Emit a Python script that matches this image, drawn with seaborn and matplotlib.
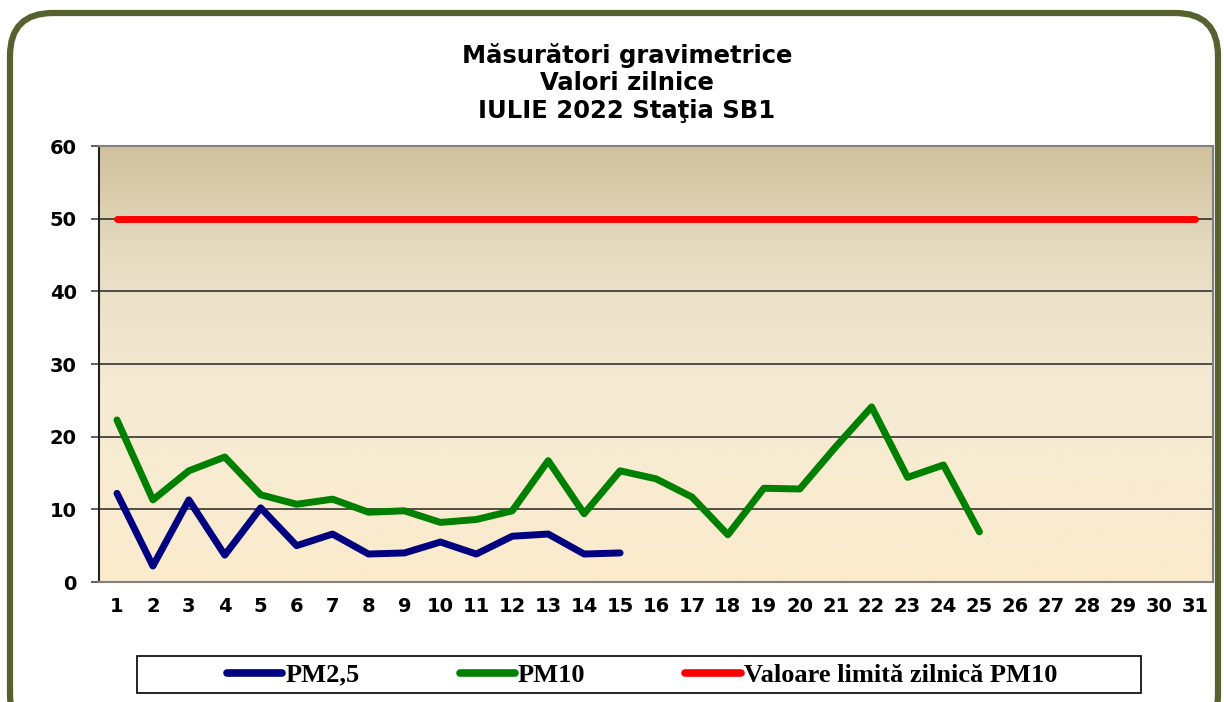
import numpy as np
import pandas as pd
import matplotlib
matplotlib.use("Agg")
import matplotlib.pyplot as plt
import seaborn as sns
from matplotlib.patches import FancyBboxPatch, Rectangle
from matplotlib.colors import LinearSegmentedColormap
from matplotlib.lines import Line2D

days = list(range(1, 32))
day_labels = [str(d) for d in days]
pm25 = [12.2, 2.2, 11.3, 3.7, 10.2, 5.0, 6.6, 3.85, 4.0, 5.5, 3.85, 6.3, 6.6, 3.85, 4.0]
pm10 = [22.3, 11.3, 15.3, 17.2, 12.0, 10.7, 11.4, 9.6, 9.8, 8.2, 8.6, 9.8, 16.7, 9.4, 15.3,
        14.2, 11.7, 6.5, 12.9, 12.8, 18.6, 24.1, 14.4, 16.1, 6.9]
limit = [50] * 31
series_names = ["PM2,5", "PM10", "Valoare limită zilnică PM10"]
series_colors = ["#000080", "#008000", "#FF0000"]
title_lines = ["Măsurători gravimetrice", "Valori zilnice", "IULIE 2022 Staţia SB1"]
yticks = [0, 10, 20, 30, 40, 50, 60]

sns.set_style("white")
plt.rcParams['font.family'] = ['DejaVu Sans']
plt.rcParams['text.color'] = 'black'
plt.rcParams['xtick.color'] = 'black'
plt.rcParams['ytick.color'] = 'black'

fig = plt.figure(figsize=(12.24, 7.02), dpi=100)
fig.patch.set_facecolor("white")

# rounded outer border
border = FancyBboxPatch((10 / 1224, -0.05), (1208 / 1224), 1.05 - 13 / 702,
                        boxstyle="round,pad=0,rounding_size=0.035",
                        transform=fig.transFigure, facecolor="none",
                        edgecolor="#556230", linewidth=4.5, mutation_aspect=1224 / 702)
fig.patches.append(border)

ax = fig.add_axes([99 / 1224, 1 - 582 / 702, (1213 - 99) / 1224, (582 - 146) / 702])

# gradient background
cmap = LinearSegmentedColormap.from_list("bg", [(0, "#FBEBCD"), (0.45, "#F5EBD4"),
                                                (0.75, "#E6DCC2"), (1, "#CFC19D")])
grad = np.linspace(0, 1, 256).reshape(-1, 1)
ax.imshow(grad, aspect="auto", cmap=cmap, origin="lower", extent=[0, 1, 0, 1],
          transform=ax.transAxes, zorder=0)

df25 = pd.DataFrame({"day": days[:len(pm25)], "val": pm25})
df10 = pd.DataFrame({"day": days[:len(pm10)], "val": pm10})
dflim = pd.DataFrame({"day": days, "val": limit})

for yv in yticks[1:-1]:
    ax.axhline(yv, color="#222222", linewidth=1.1, zorder=1)

lw = 5.0
for d, c in zip([df25, df10, dflim], series_colors):
    sns.lineplot(data=d, x="day", y="val", ax=ax, color=c, linewidth=lw,
                 solid_capstyle="round", solid_joinstyle="round", zorder=3, legend=False)

ax.set_xlim(0.5, 31.5)
ax.set_ylim(0, 60)
ax.set_xlabel("")
ax.set_ylabel("")
ax.set_xticks(days)
ax.set_xticklabels(day_labels, fontweight="bold", fontsize=14)
ax.set_xticks(np.arange(0.5, 32, 1), minor=True)
ax.tick_params(axis="x", which="major", length=0, pad=11)
ax.tick_params(axis="x", which="minor", length=6, width=1.3, color="#555555", direction="out")
ax.set_yticks(yticks)
ax.set_yticklabels([str(v) for v in yticks], fontweight="bold", fontsize=14)
ax.tick_params(axis="y", which="major", length=6, width=1.3, color="#555555", direction="out", pad=10)
ax.tick_params(bottom=True, left=True)

for s in ["top", "right", "bottom"]:
    ax.spines[s].set_color("#808080")
    ax.spines[s].set_linewidth(1.5)
ax.spines["left"].set_color("#222222")
ax.spines["left"].set_linewidth(1.5)

# title
for i, t in enumerate(title_lines):
    fig.text(627 / 1224, 1 - (55 + 28 * i) / 702, t, ha="center", va="center",
             fontsize=17.5, fontweight="bold", color="black")

# legend box
fig.patches.append(Rectangle((137 / 1224, 1 - 693 / 702), (1141 - 137) / 1224, 37 / 702,
                             transform=fig.transFigure, facecolor="white",
                             edgecolor="black", linewidth=1.2))
handles = [Line2D([0], [0], color=c, linewidth=5.5, solid_capstyle="round") for c in series_colors]
fig.legend(handles, series_names, loc="center", bbox_to_anchor=(642 / 1224, 1 - 675 / 702),
           ncol=3, frameon=False, handlelength=2.1, handletextpad=0.1, columnspacing=3.8,
           borderpad=0.2, labelcolor="black",
           prop={"family": "Liberation Serif", "weight": "bold", "size": 19})

fig.savefig("out.png", dpi=100)
